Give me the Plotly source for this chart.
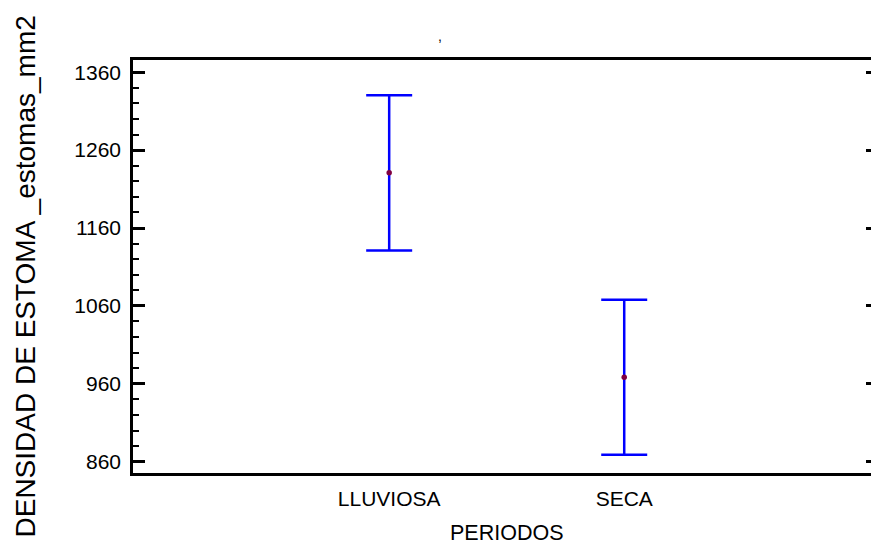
import plotly.graph_objects as go

# Means with interval half-widths for stomatal density by period
periodos = ["LLUVIOSA", "SECA"]
medias = [1230.8, 968.4]
semi_intervalo = [99.6, 99.4]

y_ticks = [860, 960, 1060, 1160, 1260, 1360]

FONT = "Liberation Sans, Arial, sans-serif"
Y_RANGE = [845.5, 1375.7]
X_RANGE = [-1.09, 2.05]

fig = go.Figure()

fig.add_trace(go.Scatter(
    x=periodos,
    y=medias,
    mode="markers",
    marker=dict(size=5.5, color="#800040", symbol="circle"),
    error_y=dict(
        type="data",
        array=semi_intervalo,
        symmetric=True,
        color="#0000ff",
        thickness=2.5,
        width=23,
    ),
    showlegend=False,
    hoverinfo="x+y",
))

# invisible companion trace so the right-hand tick axis is drawn
fig.add_trace(go.Scatter(
    x=periodos,
    y=medias,
    mode="markers",
    marker=dict(size=1, opacity=0),
    yaxis="y2",
    showlegend=False,
    hoverinfo="skip",
))

fig.update_layout(
    width=871,
    height=544,
    margin=dict(l=133, r=0, t=60, b=71),
    paper_bgcolor="white",
    plot_bgcolor="white",
    font=dict(family=FONT, color="black"),
    xaxis=dict(
        type="category",
        range=X_RANGE,
        showgrid=False,
        zeroline=False,
        showline=True,
        linecolor="black",
        linewidth=2.5,
        mirror=True,
        ticks="",
        tickfont=dict(size=21, family=FONT, color="black"),
        ticklabelstandoff=5,
    ),
    yaxis=dict(
        range=Y_RANGE,
        tickvals=y_ticks,
        ticktext=[str(v) for v in y_ticks],
        showgrid=False,
        zeroline=False,
        showline=True,
        linecolor="black",
        linewidth=2.5,
        mirror=False,
        ticks="inside",
        ticklen=12,
        tickwidth=2.5,
        tickcolor="black",
        tickfont=dict(size=21, family=FONT, color="black"),
        ticklabelstandoff=5,
        minor=dict(
            tick0=860,
            dtick=20,
            ticks="inside",
            ticklen=6,
            tickwidth=2,
            tickcolor="black",
            showgrid=False,
        ),
    ),
    yaxis2=dict(
        range=Y_RANGE,
        overlaying="y",
        side="right",
        tickvals=y_ticks,
        showticklabels=False,
        showgrid=False,
        zeroline=False,
        showline=False,
        ticks="inside",
        ticklen=5,
        tickwidth=2.5,
        tickcolor="black",
    ),
    annotations=[
        dict(
            text="DENSIDAD DE ESTOMA _estomas_mm2",
            xref="paper", yref="paper",
            x=(25 - 133) / 738, y=(473 - 276.5) / 413,
            xanchor="center", yanchor="middle",
            textangle=-90,
            showarrow=False,
            font=dict(size=28, family=FONT, color="black"),
        ),
        dict(
            text="PERIODOS",
            xref="paper", yref="paper",
            x=(507.5 - 133) / 738, y=(473 - 533) / 413,
            xanchor="center", yanchor="middle",
            showarrow=False,
            font=dict(size=21.5, family=FONT, color="black"),
        ),
        dict(
            text=",",
            xref="paper", yref="paper",
            x=(440 - 133) / 738, y=(473 - 36) / 413,
            xanchor="center", yanchor="middle",
            showarrow=False,
            font=dict(size=14, family=FONT, color="black"),
        ),
    ],
)

fig.write_html("out.html")
